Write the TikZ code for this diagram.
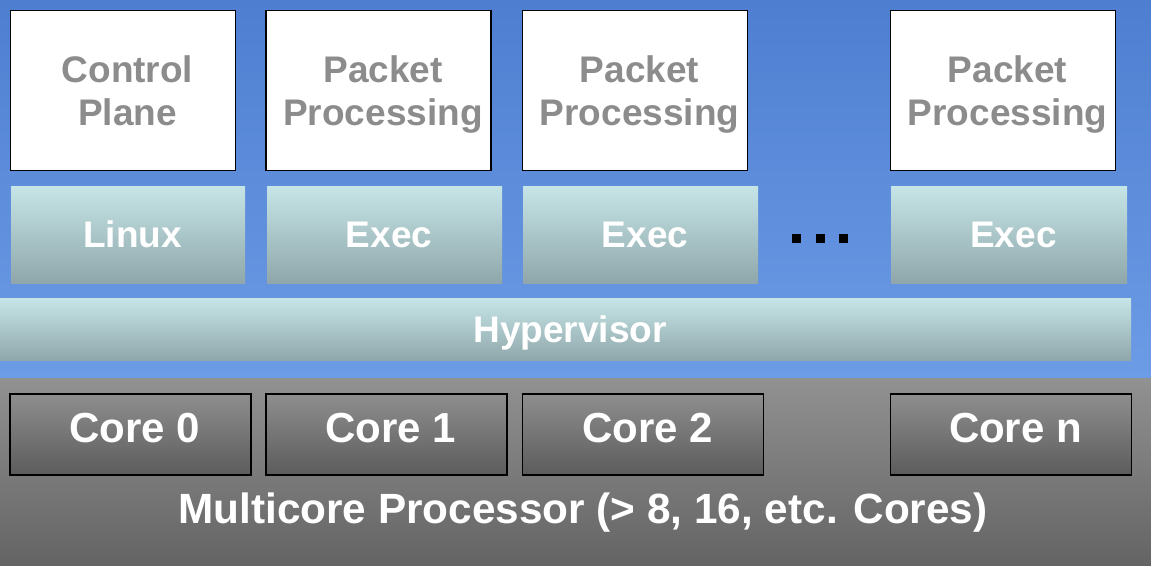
\documentclass[tikz,border=0pt]{standalone}
\usepackage{fontspec}
\setmainfont{Liberation Sans}
\definecolor{bluetop}{RGB}{78,126,208}
\definecolor{bluebot}{RGB}{108,156,230}
\definecolor{tealtop}{RGB}{198,229,231}
\definecolor{tealbot}{RGB}{143,167,170}
\definecolor{graytop}{RGB}{145,145,145}
\definecolor{graybot}{RGB}{100,100,100}
\definecolor{coretop}{RGB}{142,142,142}
\definecolor{corebot}{RGB}{92,92,92}
\definecolor{labelgray}{RGB}{140,140,140}
\newcommand{\tpad}{\hspace*{9pt}}
\tikzset{
  appbox/.style={draw=black, line width=1.5pt, fill=white, minimum width=225pt, minimum height=160pt,
    inner sep=0pt, align=center, text=labelgray, text depth=0pt,
    font=\fontsize{37}{43}\selectfont\bfseries},
  osbox/.style={top color=tealtop, bottom color=tealbot, draw=none, minimum height=97pt,
    inner sep=0pt, text=white, text height=26.5pt, text depth=0pt,
    font=\fontsize{37}{43}\selectfont\bfseries, execute at begin node=\tpad},
  corebox/.style={top color=coretop, bottom color=corebot, draw=black, line width=1.5pt,
    minimum width=241pt, minimum height=81pt, inner sep=0pt, text=white,
    text height=30pt, text depth=15pt, font=\fontsize{42}{48}\selectfont\bfseries,
    execute at begin node=\tpad},
  dotbox/.style={fill=black, minimum size=9pt, inner sep=0pt},
  title/.style={text=white, font=\fontsize{42.3}{48}\selectfont\bfseries, inner sep=0pt}
}
\begin{document}
\begin{tikzpicture}[x=1pt,y=-1pt]
\useasboundingbox (0,0) rectangle (1151,565);
\shade[top color=bluetop, bottom color=bluebot] (0,0) rectangle (1151,378);
\shade[top color=graytop, bottom color=graybot] (0,378) rectangle (1151,565);
% application boxes
\node[appbox] (cp)  at (123,90.5)   {\tpad Control\\\tpad Plane};
\node[appbox] (pp1) at (378.5,90.5) {\tpad Packet\\\tpad Processing};
\node[appbox] (pp2) at (635,90.5)   {\tpad Packet\\\tpad Processing};
\node[appbox] (pp3) at (1003,90.5)  {\tpad Packet\\\tpad Processing};
% OS boxes
\node[osbox, minimum width=234pt] (linux) at (128,234.5)   {Linux};
\node[osbox, minimum width=235pt] (exec1) at (384.5,234.5) {Exec};
\node[osbox, minimum width=235pt] (exec2) at (640.5,234.5) {Exec};
\node[osbox, minimum width=236pt] (exec3) at (1009,234.5)  {Exec};
\node[dotbox] (d1) at (796.5,238.5) {};
\node[dotbox] (d2) at (820.5,238.5) {};
\node[dotbox] (d3) at (843.5,238.5) {};
% hypervisor
\node[osbox, minimum width=1131pt, minimum height=62pt] (hyp) at (565.5,329) {Hypervisor};
% cores
\node[corebox] (c0) at (130.5,434.5) {Core 0};
\node[corebox] (c1) at (386.5,434.5) {Core 1};
\node[corebox] (c2) at (643,434.5)   {Core 2};
\node[corebox] (cn) at (1011,434.5)  {Core n};
\node[title, anchor=base] (mp) at (583,523) {Multicore Processor (> 8, 16, etc. Cores)};
\end{tikzpicture}
\end{document}
